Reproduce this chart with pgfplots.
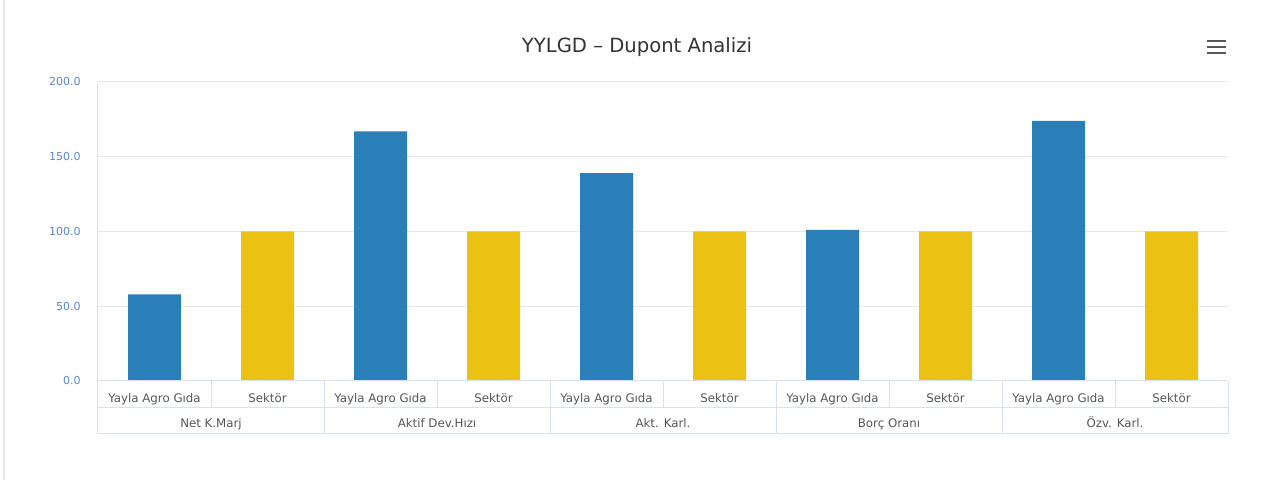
\documentclass[border=0pt]{standalone}
\usepackage{pgfplots}
\pgfplotsset{compat=1.18}
\usepackage{fontspec}
\setmainfont{DejaVu Sans}

\definecolor{barblue}{HTML}{2A7FB9}
\definecolor{baryellow}{HTML}{EBC113}
\definecolor{gridgray}{HTML}{E8E8E8}
\definecolor{framecol}{HTML}{DAE1F0}
\definecolor{ticklab}{HTML}{5A86C5}
\definecolor{labgray}{HTML}{555555}

\tikzset{
  table line/.style={framecol,line width=0.5pt},
  group label/.style={font=\fontsize{5.9}{6.5}\selectfont, text=labgray, text height=1.6ex, text depth=0.3ex, inner sep=0pt},
}

\begin{document}
\begin{tikzpicture}
% canvas: 1 px of the 1265 x 480 reference = 0.5pt
\path[use as bounding box] (0pt,0pt) rectangle (632.5pt,240pt);
\draw[gridgray,line width=0.8pt] (2pt,0pt) -- (2pt,240pt);

\node[font=\fontsize{9.8}{11}\selectfont,text=black!80] at (318.5pt,216.5pt) {YYLGD – Dupont Analizi};
\foreach \yy in {216.5,213.5,219.5} \draw[black!65,line width=1.4pt] (603.5pt,\yy pt) -- (613pt,\yy pt);

\begin{axis}[
  at={(49pt,49.5pt)}, anchor=south west,
  scale only axis, width=565pt, height=149.5pt,
  xmin=-0.5, xmax=9.5, ymin=0, ymax=200,
  clip=false,
  axis line style={draw=none},
  major tick length=0pt,
  ytick={0,50,100,150,200},
  ymajorgrids, grid style={gridgray,line width=0.5pt},
  scaled y ticks=false,
  yticklabel style={font=\fontsize{5.5}{6}\selectfont, text=ticklab, anchor=east, inner sep=0pt, xshift=-8.5pt,
    /pgf/number format/fixed, /pgf/number format/fixed zerofill,
    /pgf/number format/precision=1, /pgf/number format/assume math mode=true},
  xtick={0,...,9},
  xticklabels={Yayla Agro Gıda,Sektör,Yayla Agro Gıda,Sektör,Yayla Agro Gıda,Sektör,Yayla Agro Gıda,Sektör,Yayla Agro Gıda,Sektör},
  xticklabel style={font=\fontsize{5.9}{6.5}\selectfont, text=labgray, anchor=center, inner sep=0pt,
    text height=1.6ex, text depth=0.3ex, yshift=-7pt},
]
\addplot[ybar, bar width=26.5pt, bar shift=0pt, fill=barblue, draw=none]
  coordinates {(0,58) (2,167) (4,139) (6,101) (8,174)};
\addplot[ybar, bar width=26.5pt, bar shift=0pt, fill=baryellow, draw=none]
  coordinates {(1,100) (3,100) (5,100) (7,100) (9,100)};

% grouped category table below the plot
\draw[table line] (axis cs:-0.5,200) -- (axis cs:-0.5,-34.8) -- (axis cs:9.5,-34.8) -- (axis cs:9.5,0);
\draw[table line] (axis cs:-0.5,0) -- (axis cs:9.5,0);
\draw[table line] (axis cs:-0.5,-17.4) -- (axis cs:9.5,-17.4);
\draw[table line] (axis cs:0.5,0) -- (axis cs:0.5,-17.4);
\draw[table line] (axis cs:2.5,0) -- (axis cs:2.5,-17.4);
\draw[table line] (axis cs:4.5,0) -- (axis cs:4.5,-17.4);
\draw[table line] (axis cs:6.5,0) -- (axis cs:6.5,-17.4);
\draw[table line] (axis cs:8.5,0) -- (axis cs:8.5,-17.4);
\draw[table line] (axis cs:1.5,0) -- (axis cs:1.5,-34.8);
\draw[table line] (axis cs:3.5,0) -- (axis cs:3.5,-34.8);
\draw[table line] (axis cs:5.5,0) -- (axis cs:5.5,-34.8);
\draw[table line] (axis cs:7.5,0) -- (axis cs:7.5,-34.8);
\node[group label] at (axis cs:0.5,-26.1) {Net K.Marj};
\node[group label] at (axis cs:2.5,-26.1) {Aktif Dev.Hızı};
\node[group label] at (axis cs:4.5,-26.1) {Akt. Karl.};
\node[group label] at (axis cs:6.5,-26.1) {Borç Oranı};
\node[group label] at (axis cs:8.5,-26.1) {Özv. Karl.};
\end{axis}
\end{tikzpicture}
\end{document}
